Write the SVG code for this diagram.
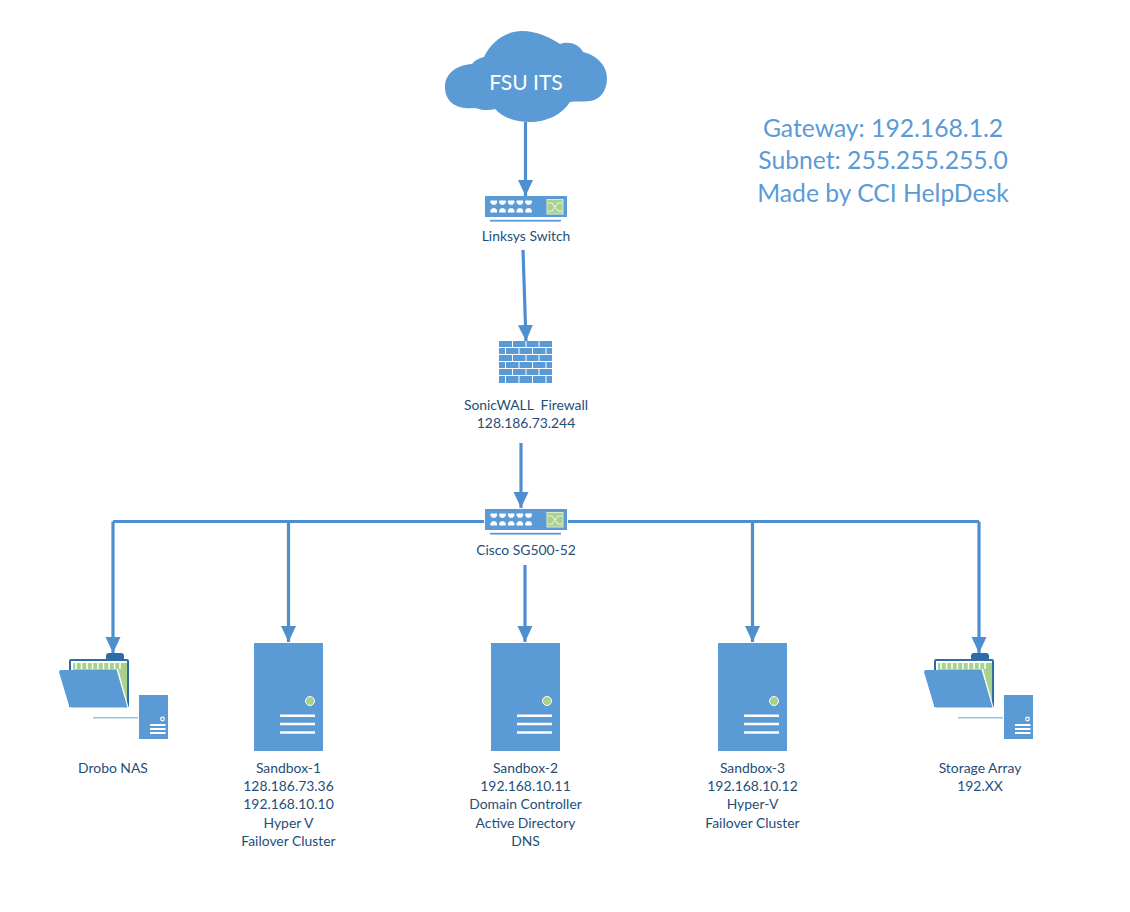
<svg xmlns="http://www.w3.org/2000/svg" width="1130" height="912" viewBox="0 0 1130 912">
<style>
text{font-family:"Lato","Open Sans","Liberation Sans",sans-serif;text-anchor:middle}
.lb{font-size:13.900px;fill:#1f4e79}
.big{font-size:24.700px;fill:#5b9bd5}
.c{fill:none;stroke:#4f8fcf;stroke-width:3.200}
.a{stroke:#4f8fcf;stroke-width:3.200;fill:none;marker-end:url(#ah)}
.f{fill:#5b9bd5}
.wl{stroke:#fff;stroke-width:2.500;fill:none}
</style>
<defs>
<marker id="ah" markerUnits="userSpaceOnUse" markerWidth="16" markerHeight="16" refX="16" refY="8" orient="auto"><path d="M0 0.500L16 8L0 15.500Z" fill="#4f8fcf"/></marker>
<path id="port" d="M0 0h6.500v3h-1.300v1.300h-3.900v-1.300h-1.300Z" fill="#fff"/>
<g id="sw">
<rect x="0" y="0" width="82" height="21" class="f"/>
<rect x="5" y="23.800" width="71" height="1.800" fill="#5b9bd5"/>
<use href="#port" x="5.500" y="4.500"/><use href="#port" x="14.200" y="4.500"/><use href="#port" x="22.900" y="4.500"/><use href="#port" x="31.600" y="4.500"/><use href="#port" x="40.300" y="4.500"/>
<use href="#port" transform="translate(5.500,16.500) scale(1,-1)"/><use href="#port" transform="translate(14.200,16.500) scale(1,-1)"/><use href="#port" transform="translate(22.900,16.500) scale(1,-1)"/><use href="#port" transform="translate(31.600,16.500) scale(1,-1)"/><use href="#port" transform="translate(40.300,16.500) scale(1,-1)"/>
<rect x="62" y="3.500" width="16" height="14.500" fill="#a9d18e" stroke="#dcebd0"/>
<path d="M63 7h4l6 8h4M63 15h4l6-8h4" fill="none" stroke="#e8f3df" stroke-width="1.200"/>
</g>
<g id="srv">
<rect x="0" y="0" width="69" height="108" class="f"/>
<circle cx="56" cy="58" r="4.500" fill="#a9d18e" stroke="#fff" stroke-width="1"/>
<path class="wl" d="M26 72.700h35M26 81h35M26 89.500h35"/>
</g>
<g id="sto">
<path d="M106 660v-4a3 3 0 0 1 3-3h12a3 3 0 0 1 3 3v4Z" fill="#2e6ca8"/>
<path d="M69 707V661a2 2 0 0 1 2-2h56a2 2 0 0 1 2 2v46Z" fill="#2e6ca8"/>
<rect x="71" y="661" width="56" height="46" fill="#fff"/>
<rect x="73" y="663" width="54" height="44" fill="#a9d18e"/>
<path d="M76 663v6M81.500 663v6M87 663v6M92.500 663v6M98 663v6M103.500 663v6M109 663v6M114.500 663v6M120 663v6" stroke="#fff" stroke-width="1.500"/>
<path d="M118 669l10.500 38h-2l-10-38Z" fill="#fff"/>
<path d="M61 670H116.500L127.500 707.500H72a3 3 0 0 1-3-2L59 672a2 2 0 0 1 2-2Z" class="f"/>
<rect x="93" y="717" width="45" height="1.500" fill="#9cc3e6"/>
<rect x="139" y="695" width="29" height="44" class="f"/>
<circle cx="162.500" cy="719" r="1.800" fill="none" stroke="#fff" stroke-width="1.200"/>
<path d="M150 725h15.500M150 729h15.500M150 733h15.500" stroke="#fff" stroke-width="2" fill="none"/>
</g>
</defs>

<g id="connectors">
<path class="a" d="M525.500 122V196"/>
<path class="a" d="M523 250L526 341"/>
<path class="a" d="M521 443V508"/>
<path class="c" d="M484 521.500H113"/>
<path class="c" d="M568 521.500H979"/>
<path class="a" d="M113 521.500V653"/>
<path class="a" d="M288.500 521.500V642"/>
<path class="a" d="M525 565V642"/>
<path class="a" d="M752.500 521.500V642"/>
<path class="a" d="M979 521.500V653"/>
</g>

<g id="cloud">
<path class="f" d="M445 87C445 73 457 65 472 64C475 60 479 58 484 57C491 42 506 31 522 31C537 31 551 38 560 44C567 41 579 43 583 52C597 55 607 66 607 78C607 91 600 100 590 101C582 102 575 101 570 102C562 115 546 122 530 122C516 122 503 118 495 109C488 111 481 110 475 108C458 110 445 103 445 87Z"/>
<text x="526" y="90" font-size="21" fill="#fff">FSU ITS</text>
</g>

<g id="linksys"><use href="#sw" x="485" y="196"/><text class="lb" x="526" y="241">Linksys Switch</text></g>

<g id="firewall">
<rect x="499" y="341" width="53" height="42" class="f"/>
<path d="M499 347.500H552M499 354.500H552M499 361.500H552M499 368.500H552M499 375.500H552" stroke="#fff" stroke-width="1"/>
<path d="M512.500 341v6M526 341v6M539 341v6M505.500 347.500v7M519 347.500v7M532.500 347.500v7M546 347.500v7M512.500 354.500v7M526 354.500v7M539 354.500v7M505.500 361.500v7M519 361.500v7M532.500 361.500v7M546 361.500v7M512.500 368.500v7M526 368.500v7M539 368.500v7M505.500 375.500v8M519 375.500v8M532.500 375.500v8M546 375.500v8" stroke="#fff" stroke-width="1"/>
<text class="lb" x="526" y="410" xml:space="preserve">SonicWALL  Firewall</text>
<text class="lb" x="526" y="428">128.186.73.244</text>
</g>

<g id="cisco"><use href="#sw" x="485" y="509"/><text class="lb" x="526" y="555">Cisco SG500-52</text></g>

<g id="drobo"><use href="#sto"/><text class="lb" x="113" y="773">Drobo NAS</text></g>

<g id="sandbox1"><use href="#srv" x="254" y="643"/>
<text class="lb" x="288.500" y="773">Sandbox-1</text><text class="lb" x="288.500" y="791">128.186.73.36</text><text class="lb" x="288.500" y="809">192.168.10.10</text><text class="lb" x="288.500" y="828">Hyper V</text><text class="lb" x="288.500" y="846">Failover Cluster</text></g>

<g id="sandbox2"><use href="#srv" x="491" y="643"/>
<text class="lb" x="525.500" y="773">Sandbox-2</text><text class="lb" x="525.500" y="791">192.168.10.11</text><text class="lb" x="525.500" y="809">Domain Controller</text><text class="lb" x="525.500" y="828">Active Directory</text><text class="lb" x="525.500" y="846">DNS</text></g>

<g id="sandbox3"><use href="#srv" x="718" y="643"/>
<text class="lb" x="752.500" y="773">Sandbox-3</text><text class="lb" x="752.500" y="791">192.168.10.12</text><text class="lb" x="752.500" y="809">Hyper-V</text><text class="lb" x="752.500" y="828">Failover Cluster</text></g>

<g id="storage"><use href="#sto" x="865"/><text class="lb" x="980" y="773">Storage Array</text><text class="lb" x="980" y="791">192.XX</text></g>

<g id="info">
<text class="big" x="883" y="136.500">Gateway: 192.168.1.2</text>
<text class="big" x="883" y="169">Subnet: 255.255.255.0</text>
<text class="big" x="883" y="201.500">Made by CCI HelpDesk</text>
</g>
</svg>
